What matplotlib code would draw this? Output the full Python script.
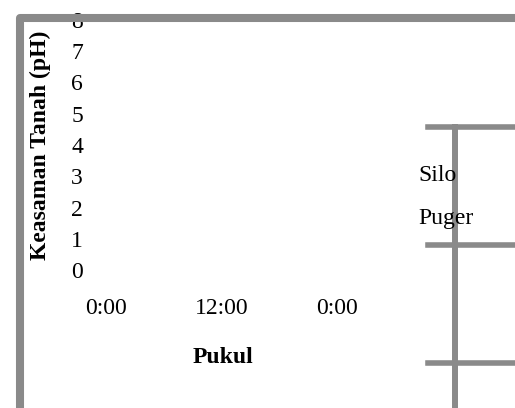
import matplotlib
matplotlib.use('Agg')
import matplotlib.pyplot as plt
from matplotlib.lines import Line2D

plt.rcParams['font.family'] = ['Liberation Serif', 'DejaVu Serif']

# data (grafik aslinya tidak menampilkan titik data apa pun)
pukul_ticks = [0, 12, 24]
pukul_labels = ['0:00', '12:00', '0:00']
ph_ticks = [0, 1, 2, 3, 4, 5, 6, 7, 8]
nama_seri = ['Silo', 'Puger']
silo_pukul, silo_ph = [], []
puger_pukul, puger_ph = [], []

W, H = 515, 408
fs = 17
abu = '#8a8a8a'

def fx(px):
    return px / W

def fy(py):
    return 1 - py / H

fig = plt.figure(figsize=(W / 100, H / 100), dpi=100)
ax = fig.add_axes([fx(106), fy(270.5), fx(337) - fx(106), fy(19.6) - fy(270.5)])
ax.patch.set_visible(False)

ax.plot(silo_pukul, silo_ph, label=nama_seri[0])
ax.plot(puger_pukul, puger_ph, label=nama_seri[1])

ax.set_xlim(0, 24)
ax.set_ylim(0, 8)
for s in ax.spines.values():
    s.set_visible(False)
ax.set_xticks(pukul_ticks, pukul_labels)
ax.set_yticks(ph_ticks)
ax.tick_params(length=0, labelsize=fs)
ax.tick_params(axis='y', pad=16.6)
ax.tick_params(axis='x', pad=20)

ax.set_xlabel('Pukul', fontsize=fs, fontweight='bold')
ax.xaxis.label.set_va('baseline')
ax.xaxis.set_label_coords((223 - 106) / 231, -(363 - 270.5) / 250.9)

fig.text(fx(40), fy(145), 'Keasaman Tanah (pH)', rotation=90, fontsize=fs,
         fontweight='bold', ha='center', va='center')

leg = ax.legend(loc='upper left', bbox_to_anchor=(fx(418), fy(164)),
                bbox_transform=fig.transFigure, frameon=False, fontsize=fs,
                handlelength=0, handletextpad=0, borderpad=0, borderaxespad=0,
                labelspacing=0.95)
for h in leg.legend_handles:
    h.set_visible(False)

# garis abu-abu (bingkai yang rusak)
fig.add_artist(Line2D([fx(20), fx(20), fx(515)], [fy(408), fy(18), fy(18)],
                      color=abu, lw=5.8, solid_joinstyle='round', zorder=10))
fig.add_artist(Line2D([fx(455), fx(455)], [fy(127), fy(408)],
                      color=abu, lw=4.3, zorder=-1))
for yy in [126.5, 244.5, 363]:
    fig.add_artist(Line2D([fx(428), fx(515)], [fy(yy), fy(yy)],
                          color=abu, lw=4.0, zorder=-1))

fig.savefig('out.png', dpi=100)
